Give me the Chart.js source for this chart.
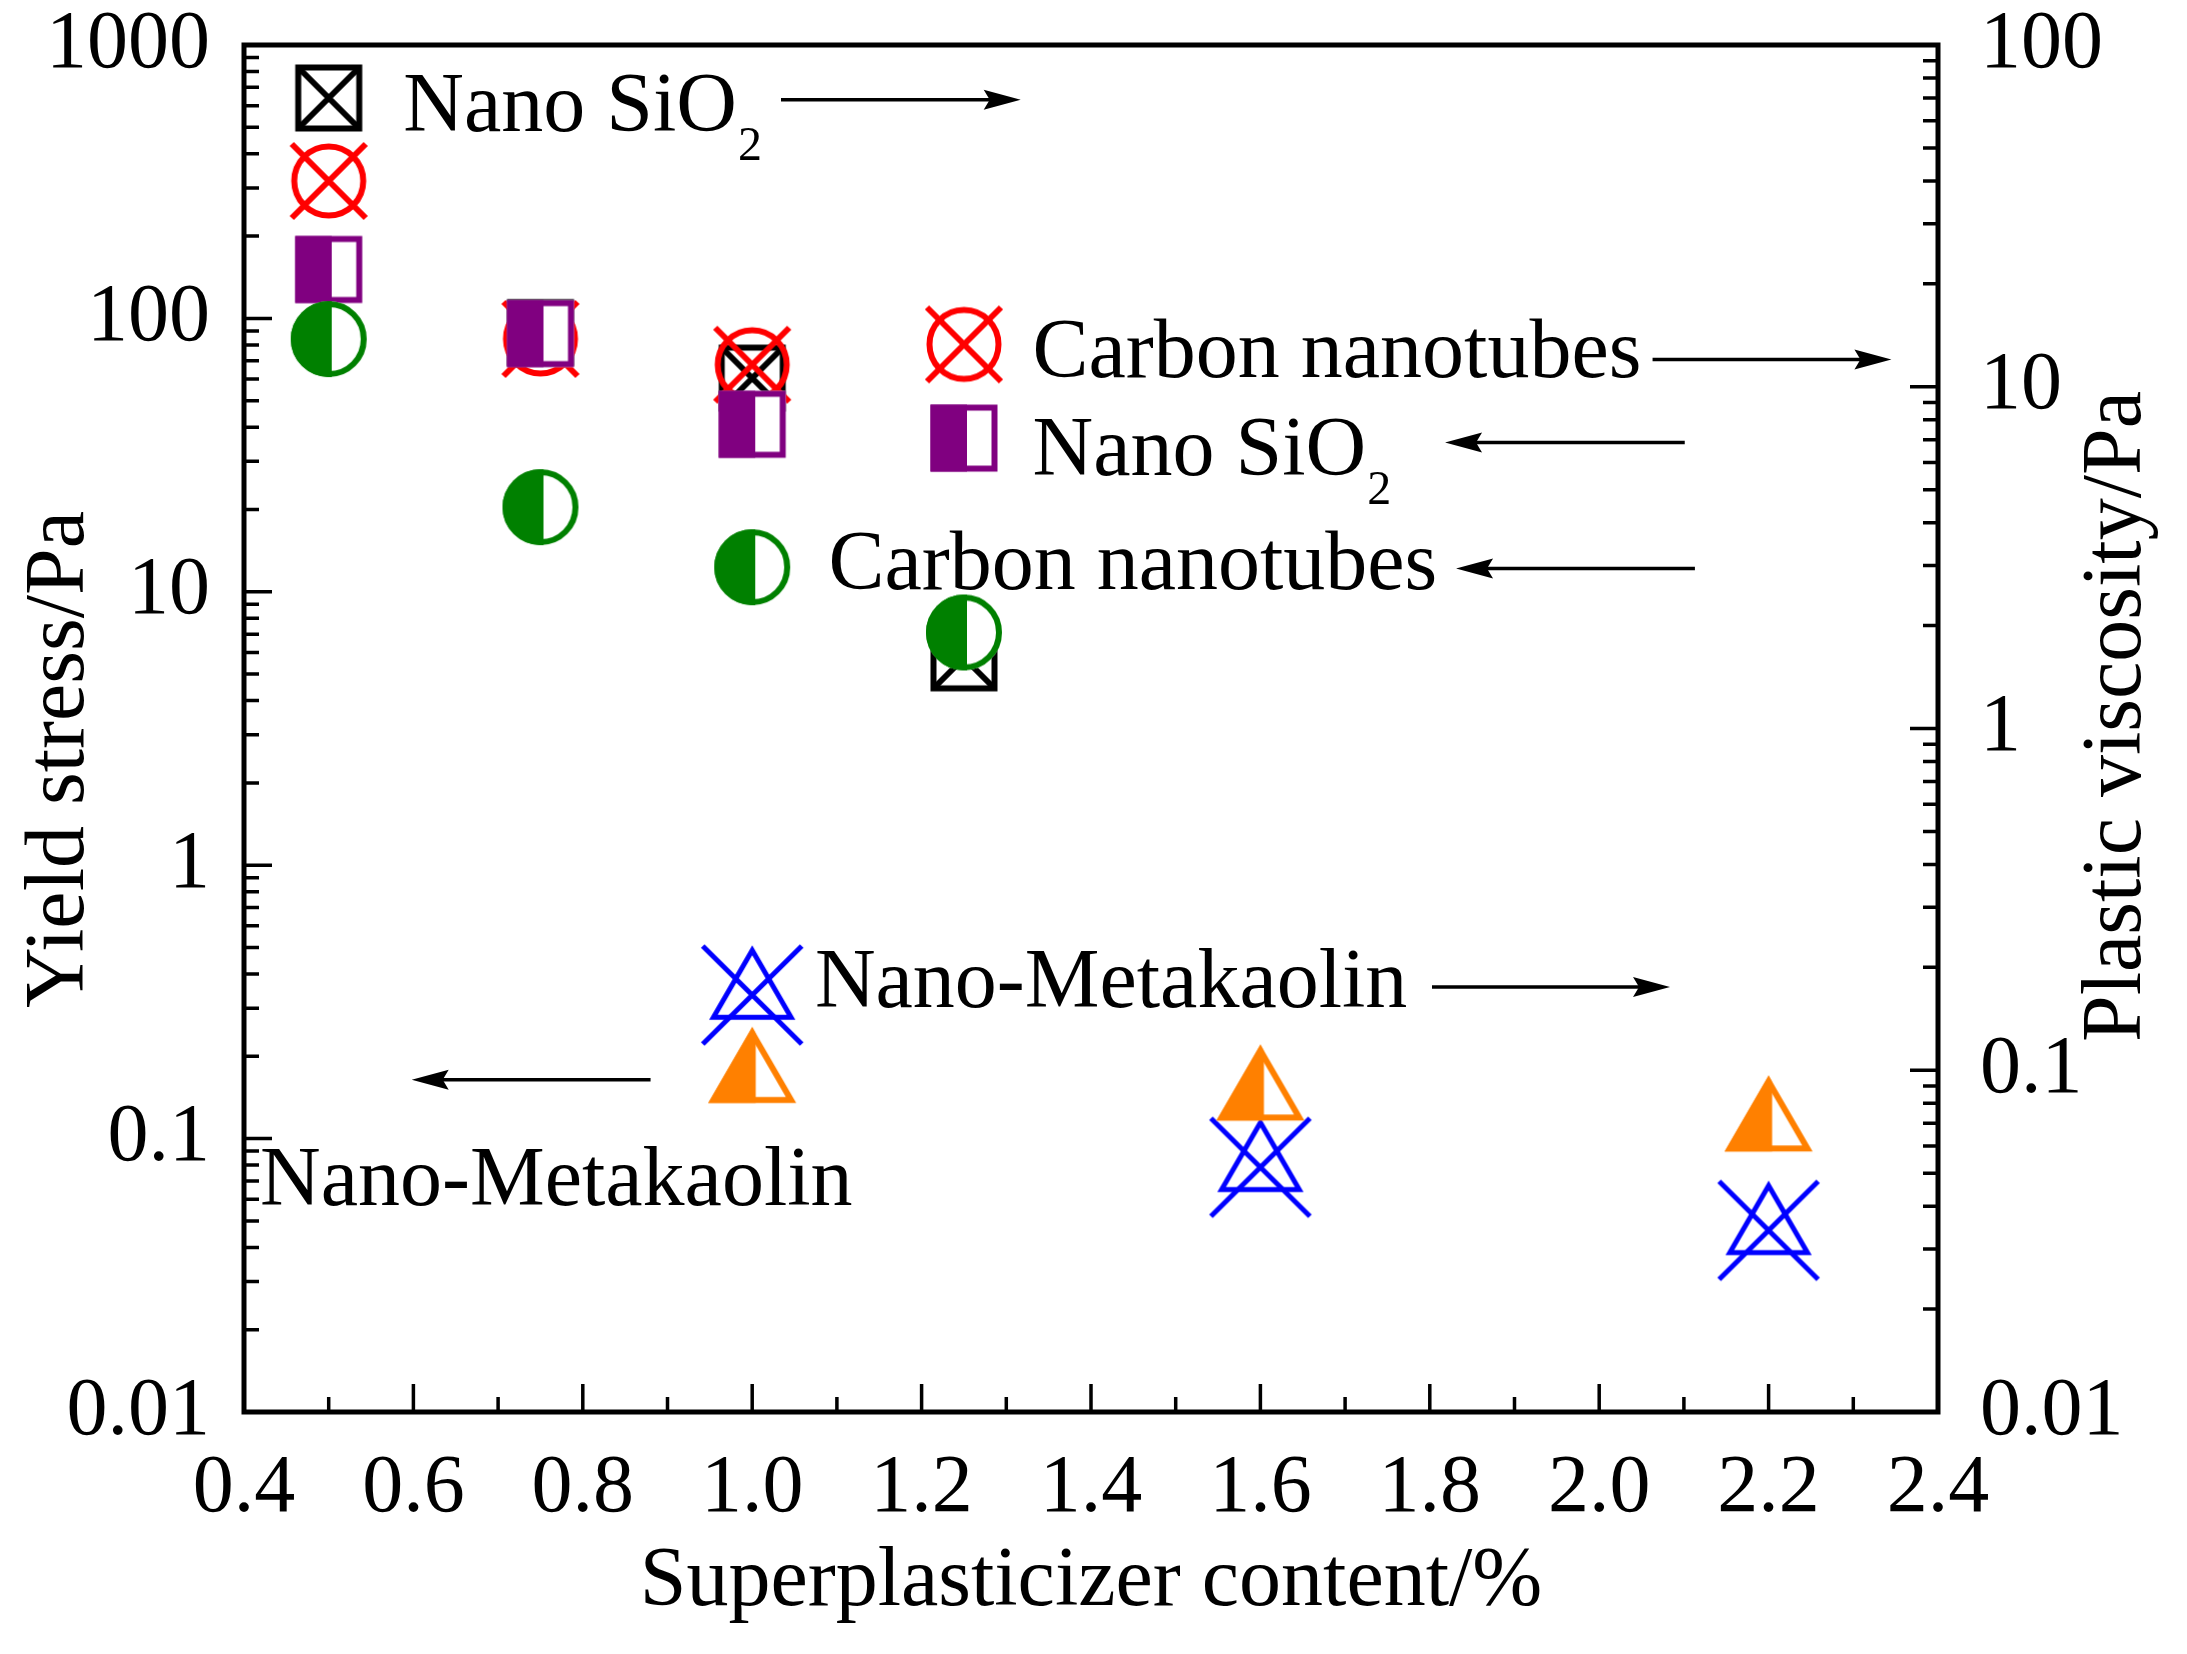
<!DOCTYPE html>
<html lang="en">
<head>
<meta charset="utf-8"/>
<title>Yield stress and plastic viscosity vs superplasticizer content</title>
<script src="https://cdn.jsdelivr.net/npm/chart.js@4"></script>
<style>
  html, body { margin: 0; padding: 0; background: #fff; }
  #wrap { width: 2187px; height: 1654px; }
</style>
</head>
<body>
<div id="wrap"><canvas id="chart" width="2187" height="1654"></canvas></div>
<script>
  // superplasticizer content (%)
  const xSilicaCnt = [0.5, 0.75, 1.0, 1.25];
  const xMetakaolin = [1.0, 1.6, 2.2];

  // yield stress (Pa) - left axis
  const yieldSilica = [151, 88, 41, 36.5];
  const yieldCnt = [84, 20.4, 12.3, 7.1];
  const yieldMk = [0.167, 0.144, 0.111];

  // plastic viscosity (Pa) - right axis
  const viscSilica = [70, 14.4, 10.6, 1.61];
  const viscCnt = [40, 13.8, 11.6, 13.3];
  const viscMk = [0.166, 0.052, 0.034];

  // tick labels
  const xTickLabels = ['0.4', '0.6', '0.8', '1.0', '1.2', '1.4', '1.6', '1.8', '2.0', '2.2', '2.4'];
  const leftTickLabels = ['0.01', '0.1', '1', '10', '100', '1000'];
  const rightTickLabels = ['0.01', '0.1', '1', '10', '100'];

  // text notes, placed in x / yield-stress units
  const notes = [
    { text: 'Nano SiO', sub: '2', x: 0.588, y: 486 },
    { text: 'Carbon nanotubes', x: 1.331, y: 61.1 },
    { text: 'Nano SiO', sub: '2', x: 1.331, y: 26.7 },
    { text: 'Carbon nanotubes', x: 1.090, y: 10.28 },
    { text: 'Nano-Metakaolin', x: 1.074, y: 0.303 },
    { text: 'Nano-Metakaolin', x: 0.419, y: 0.0574 }
  ];
  const arrows = [
    { from: [1.034, 630], to: [1.317, 630] },
    { from: [2.063, 70.8], to: [2.345, 70.8] },
    { from: [2.101, 35.2], to: [1.818, 35.2] },
    { from: [2.113, 12.17], to: [1.831, 12.17] },
    { from: [1.8026, 0.3584], to: [2.0836, 0.3584] },
    { from: [0.88, 0.1643], to: [0.598, 0.1643] }
  ];

  const FONT = '"Liberation Serif", "Times New Roman", serif';

  // marker sprites (Origin style symbols)
  function marker(kind, color) {
    const c = document.createElement('canvas');
    c.width = c.height = 112;
    const g = c.getContext('2d');
    g.translate(56, 56);
    g.strokeStyle = color;
    g.fillStyle = color;
    g.lineWidth = 6;
    g.lineJoin = 'miter';

    const tri = () => {
      g.beginPath();
      g.moveTo(0, -44.7);
      g.lineTo(38.8, 22.3);
      g.lineTo(-38.8, 22.3);
      g.closePath();
    };

    if (kind === 'squareX') {
      g.strokeRect(-30.5, -30.5, 61, 61);
      g.beginPath();
      g.moveTo(-30.5, -30.5); g.lineTo(30.5, 30.5);
      g.moveTo(30.5, -30.5); g.lineTo(-30.5, 30.5);
      g.stroke();
    } else if (kind === 'circleX') {
      g.beginPath();
      g.arc(0, 0, 34.5, 0, Math.PI * 2);
      g.stroke();
      g.beginPath();
      g.moveTo(-37, -37); g.lineTo(37, 37);
      g.moveTo(37, -37); g.lineTo(-37, 37);
      g.stroke();
    } else if (kind === 'halfSquare') {
      g.fillStyle = '#fff';
      g.fillRect(-33.5, -33.5, 67, 67);
      g.fillStyle = color;
      g.fillRect(-33.5, -33.5, 36.5, 67);
      g.strokeRect(-30.5, -30.5, 61, 61);
    } else if (kind === 'halfCircle') {
      g.fillStyle = '#fff';
      g.beginPath(); g.arc(0, 0, 38, 0, Math.PI * 2); g.fill();
      g.save();
      g.beginPath(); g.rect(-40, -40, 43, 80); g.clip();
      g.fillStyle = color;
      g.beginPath(); g.arc(0, 0, 38, 0, Math.PI * 2); g.fill();
      g.restore();
      g.beginPath(); g.arc(0, 0, 35, 0, Math.PI * 2); g.stroke();
    } else if (kind === 'halfTriangle') {
      g.fillStyle = '#fff';
      tri(); g.fill();
      g.save();
      g.beginPath(); g.rect(-50, -56, 53.5, 90); g.clip();
      g.fillStyle = color;
      g.beginPath();
      g.moveTo(0, -50.7); g.lineTo(44, 25.3); g.lineTo(-44, 25.3); g.closePath();
      g.fill();
      g.restore();
      tri(); g.stroke();
    } else if (kind === 'triangleX') {
      g.lineWidth = 5;
      tri(); g.stroke();
      g.beginPath();
      g.moveTo(-49.5, -49); g.lineTo(49.5, 49);
      g.moveTo(49.5, -49); g.lineTo(-49.5, 49);
      g.stroke();
    }
    return c;
  }

  const pts = (xs, ys) => xs.map((x, i) => ({ x: x, y: ys[i] }));

  function logTicks(decades) {
    const out = [];
    decades.forEach((d, i) => {
      out.push({ value: d, major: true });
      if (i < decades.length - 1) {
        for (let m = 2; m <= 9; m++) out.push({ value: d * m, major: false });
      }
    });
    return out;
  }
  const leftDecades = leftTickLabels.map(Number);
  const rightDecades = rightTickLabels.map(Number);

  // fixed plot box: no extra label overflow padding
  function fixY(width) {
    return s => { s.width = width; s.paddingTop = 0; s.paddingBottom = 0; };
  }

  // frame, inward ticks, axis titles
  const framePlugin = {
    id: 'frame',
    beforeDatasetsDraw(chart) {
      const { ctx, chartArea: a, scales } = chart;
      ctx.save();
      ctx.strokeStyle = '#000';
      ctx.lineWidth = 3.5;
      ctx.beginPath();
      const xs = scales.x;
      const xt = xs.ticks;
      xt.forEach((t, i) => {
        const px = xs.getPixelForValue(t.value);
        ctx.moveTo(px, a.bottom); ctx.lineTo(px, a.bottom - 28);
        if (i < xt.length - 1) {
          const pm = xs.getPixelForValue((t.value + xt[i + 1].value) / 2);
          ctx.moveTo(pm, a.bottom); ctx.lineTo(pm, a.bottom - 15);
        }
      });
      scales.y.ticks.forEach(t => {
        const py = scales.y.getPixelForValue(t.value);
        ctx.moveTo(a.left, py); ctx.lineTo(a.left + (t.major ? 28 : 15), py);
      });
      scales.y2.ticks.forEach(t => {
        const py = scales.y2.getPixelForValue(t.value);
        ctx.moveTo(a.right, py); ctx.lineTo(a.right - (t.major ? 28 : 15), py);
      });
      ctx.stroke();

      ctx.lineWidth = 5;
      ctx.strokeRect(a.left, a.top, a.right - a.left, a.bottom - a.top);

      ctx.fillStyle = '#000';
      ctx.font = '84px ' + FONT;
      ctx.textAlign = 'center';
      ctx.textBaseline = 'alphabetic';
      ctx.fillText('Superplasticizer content/%', (a.left + a.right) / 2, a.bottom + 193);
      const midY = (a.top + a.bottom) / 2;
      ctx.save();
      ctx.translate(a.left - 161, midY + 31);
      ctx.rotate(-Math.PI / 2);
      ctx.fillText('Yield stress/Pa', 0, 0);
      ctx.restore();
      ctx.save();
      ctx.translate(a.right + 202, midY - 12);
      ctx.rotate(-Math.PI / 2);
      ctx.fillText('Plastic viscosity/Pa', 0, 0);
      ctx.restore();
      ctx.restore();
    }
  };

  // labels and arrows inside the plot
  const notesPlugin = {
    id: 'notes',
    afterDatasetsDraw(chart) {
      const { ctx, scales } = chart;
      const X = v => scales.x.getPixelForValue(v);
      const Y = v => scales.y.getPixelForValue(v);
      ctx.save();
      ctx.fillStyle = '#000';
      ctx.strokeStyle = '#000';
      ctx.textAlign = 'left';
      ctx.textBaseline = 'alphabetic';
      notes.forEach(n => {
        const px = X(n.x), py = Y(n.y);
        ctx.font = '84px ' + FONT;
        ctx.fillText(n.text, px, py);
        if (n.sub) {
          const w = ctx.measureText(n.text).width;
          ctx.font = '48px ' + FONT;
          ctx.fillText(n.sub, px + w + 1, py + 29);
        }
      });
      ctx.lineWidth = 3.5;
      arrows.forEach(ar => {
        const x0 = X(ar.from[0]), y0 = Y(ar.from[1]);
        const x1 = X(ar.to[0]), y1 = Y(ar.to[1]);
        const dir = Math.sign(x1 - x0);
        ctx.beginPath();
        ctx.moveTo(x0, y0);
        ctx.lineTo(x1 - dir * 30, y1);
        ctx.stroke();
        ctx.beginPath();
        ctx.moveTo(x1, y1);
        ctx.lineTo(x1 - dir * 37, y1 - 10);
        ctx.lineTo(x1 - dir * 31, y1);
        ctx.lineTo(x1 - dir * 37, y1 + 10);
        ctx.closePath();
        ctx.fill();
      });
      ctx.restore();
    }
  };

  const tickFont = { family: FONT, size: 82 };

  const chart = new Chart(document.getElementById('chart'), {
    type: 'scatter',
    data: {
      datasets: [
        { label: 'Nano-Metakaolin yield stress', data: pts(xMetakaolin, yieldMk), yAxisID: 'y',
          pointStyle: marker('halfTriangle', '#ff8000') },
        { label: 'Nano-Metakaolin plastic viscosity', data: pts(xMetakaolin, viscMk), yAxisID: 'y2',
          pointStyle: marker('triangleX', '#0000ff') },
        { label: 'Carbon nanotubes yield stress', data: pts(xSilicaCnt, yieldCnt), yAxisID: 'y',
          pointStyle: marker('halfCircle', '#008000') },
        { label: 'Nano SiO2 yield stress', data: pts(xSilicaCnt, yieldSilica), yAxisID: 'y',
          pointStyle: marker('halfSquare', '#800080') },
        { label: 'Carbon nanotubes plastic viscosity', data: pts(xSilicaCnt, viscCnt), yAxisID: 'y2',
          pointStyle: marker('circleX', '#ff0000') },
        { label: 'Nano SiO2 plastic viscosity', data: pts(xSilicaCnt, viscSilica), yAxisID: 'y2',
          pointStyle: marker('squareX', '#000000') }
      ].map(d => Object.assign(d, { pointRadius: 38, pointHoverRadius: 38, showLine: false }))
    },
    options: {
      responsive: false,
      animation: false,
      events: [],
      layout: { padding: { top: 45, left: 0, right: 0, bottom: 0 } },
      plugins: { legend: { display: false }, tooltip: { enabled: false } },
      scales: {
        x: {
          type: 'linear', min: 0.4, max: 2.4,
          grid: { display: false }, border: { display: false },
          afterBuildTicks: s => { s.ticks = xTickLabels.map(l => ({ value: parseFloat(l) })); },
          ticks: {
            autoSkip: false, maxRotation: 0, padding: 20, color: '#000', font: tickFont,
            callback: (v, i) => xTickLabels[i]
          },
          afterFit: s => { s.height = 242; s.paddingLeft = 0; s.paddingRight = 0; }
        },
        y: {
          type: 'logarithmic', position: 'left', min: 0.01, max: 1000,
          grid: { display: false }, border: { display: false },
          afterBuildTicks: s => { s.ticks = logTicks(leftDecades); },
          ticks: {
            autoSkip: false, padding: 26, color: '#000', font: tickFont,
            callback: (v, i, t) => t[i].major ? leftTickLabels[leftDecades.indexOf(t[i].value)] : ''
          },
          afterFit: fixY(244)
        },
        y2: {
          type: 'logarithmic', position: 'right', min: 0.01, max: 100,
          grid: { display: false }, border: { display: false },
          afterBuildTicks: s => { s.ticks = logTicks(rightDecades); },
          ticks: {
            autoSkip: false, padding: 34, color: '#000', font: tickFont,
            callback: (v, i, t) => t[i].major ? rightTickLabels[rightDecades.indexOf(t[i].value)] : ''
          },
          afterFit: fixY(249)
        }
      }
    },
    plugins: [framePlugin, notesPlugin]
  });
</script>
</body>
</html>
